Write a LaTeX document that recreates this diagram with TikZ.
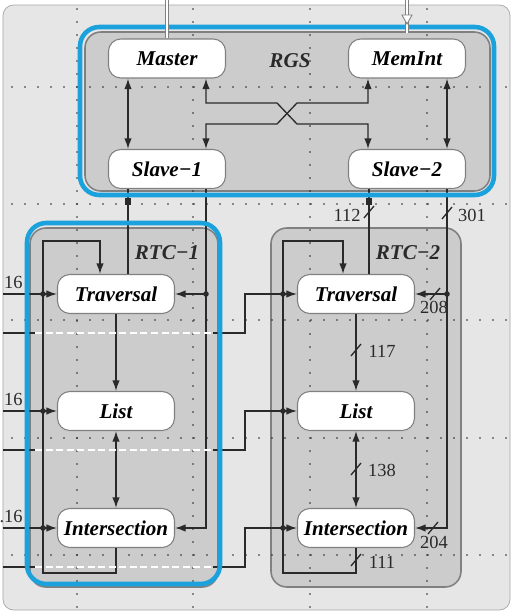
\documentclass[tikz,border=0pt]{standalone}
\usepackage{fontspec}
\setmainfont{Liberation Serif}
\usetikzlibrary{arrows.meta}
\usetikzlibrary{calc}

\definecolor{panel}{HTML}{E6E6E6}
\definecolor{boxfill}{HTML}{CCCCCC}
\definecolor{boxline}{HTML}{808080}
\definecolor{hilite}{HTML}{1BA1DC}
\definecolor{wire}{HTML}{2A2A2A}

\tikzset{
 unit/.style={draw=boxline, fill=white, line width=0.6pt, rounded corners=7pt,
  minimum width=2.34cm, minimum height=0.78cm, inner sep=0pt,
  font=\fontsize{12}{14}\selectfont\bfseries\itshape},
 grouplabel/.style={font=\fontsize{12}{14}\selectfont\bfseries\itshape, text=wire},
 wires/.style={draw=wire, line width=0.75pt},
 group/.style={draw=boxline, fill=boxfill, line width=0.9pt, rounded corners=9pt},
 ring/.style={draw=hilite, line width=2.6pt, rounded corners=11pt},
 buslabel/.style={font=\fontsize{10.5}{12}\selectfont, text=wire, inner sep=0pt},
 ghost/.style={draw=white, line width=1.3pt, dash pattern=on 4pt off 2pt},
 feed/.style={draw=boxline, double=white, double distance=1.4pt, line width=0.5pt},
}

\begin{document}
\begin{tikzpicture}[x=0.02cm, y=-0.02cm, >={Latex[length=6pt,width=4.2pt]}]
\useasboundingbox (0,0) rectangle (515,613);
\filldraw[fill=panel, draw=boxline!70, rounded corners=6pt] (3,5) rectangle (510,610);
% subsystem boxes
\path[group] (85,32) rectangle (490,191);
\path[group] (30,228) rectangle (218,587);
\path[group] (271,228) rectangle (461,587);
% dotted grid
\foreach \X in {77,193,310,427}
{\foreach \K in {0,...,46}
{\fill[black!85] (\X,9+13*\K) circle (0.9);}}
\foreach \Y in {87,204,320,438,555}
{\foreach \K in {0,...,38}
{\fill[black!85] (12+13*\K,\Y) circle (0.9);}}

\node[grouplabel] (rgs) at (290,61) {RGS};
\node[grouplabel] (rtc1) at (167,253) {RTC−1};
\node[grouplabel] (rtc2) at (408,253) {RTC−2};

\node[unit] (master) at (167,58.5) {Master};
\node[unit] (memint) at (407,58.5) {MemInt};
\node[unit] (slave1) at (167,169) {Slave−1};
\node[unit] (slave2) at (407,169) {Slave−2};
\node[unit] (trav1) at (116,294) {Traversal};
\node[unit] (list1) at (116,411) {List};
\node[unit] (inter1) at (116,528) {Intersection};
\node[unit] (trav2) at (356,294) {Traversal};
\node[unit] (list2) at (356,411) {List};
\node[unit] (inter2) at (356,528) {Intersection};

% RGS
\draw[wires,<->] (master.south -| 128,0) -- (slave1.north -| 128,0);
\draw[wires,<->] (memint.south -| 447,0) -- (slave2.north -| 447,0);
\draw[wires,<->] (master.south -| 206,0) -- (206,103) -- (277,103) -- (297,124)
 -- (368,124) -- (slave2.north -| 368,0);
\draw[wires,<->] (slave1.north -| 206,0) -- (206,124) -- (277,124) -- (297,103)
 -- (368,103) -- (memint.south -| 368,0);

% RTC-1
\draw[wires] (trav1.north -| 128,0) -- (slave1.south -| 128,0);
\fill[wire] (125,198) rectangle (131,205);
\draw[wires,->] (slave1.south -| 206,0) -- (inter1.east -| 206,0) -- (inter1.east);
\draw[wires,->] (trav1.east -| 206,0) -- (trav1.east);
\fill[wire] (trav1.east -| 206,0) circle (2.8);
\draw[wires,->] (inter1.south) -- (inter1.south |- 0,573) -- (43,573) -- (43,241)
 -- (100,241) -- (trav1.north -| 100,0);
\draw[wires,->] (trav1) -- (list1);
\draw[wires,<->] (list1) -- (inter1);
\foreach \N in {trav1,list1,inter1}
{\draw[wires,->] (\N.west -| 3,0) -- (\N.west);
\fill[wire] (\N.west -| 43,0) circle (2.8);}
\node[buslabel,anchor=base east] (in1) at (23,288) {16};
\node[buslabel,anchor=base east] (in2) at (23,405) {16};
\node[buslabel,anchor=base east] (in3) at (23,522) {.16};

% feeds into RTC-2 passing under RTC-1
\foreach \N/\Y in {trav2/333,list2/450,inter2/567}
{\draw[wires] (3,\Y) -- (35,\Y);
\draw[ghost] (35,\Y) -- (213,\Y);
\draw[wires,->] (213,\Y) -- (245,\Y) -- (\N.west -| 245,0) -- (\N.west);
\fill[wire] (\N.west -| 283,0) circle (2.8);}

% RTC-2
\draw[wires] (trav2.north -| 369,0) -- (slave2.south -| 369,0);
\fill[wire] (366,198) rectangle (372,205);
\draw[wires,->] (slave2.south -| 447,0) -- (inter2.east -| 447,0) -- (inter2.east);
\draw[wires,->] (trav2.east -| 447,0) -- (trav2.east);
\fill[wire] (trav2.east -| 447,0) circle (2.8);
\draw[wires,->] (inter2.south) -- (inter2.south |- 0,573) -- (283,573) -- (283,241)
 -- (343,241) -- (trav2.north -| 343,0);
\draw[wires,->] (trav2) -- (list2);
\draw[wires,<->] (list2) -- (inter2);
\foreach \X/\Y in {369/212,447/213,435/294,356/350,356/469,433/528,356/560}
{\draw[wires] (\X-5,\Y+6) -- (\X+5,\Y-6);}
\node[buslabel] (w112) at (347,215) {112};
\node[buslabel] (w301) at (472,215) {301};
\node[buslabel] (w208) at (434,307) {208};
\node[buslabel] (w117) at (382,351) {117};
\node[buslabel] (w138) at (382,470) {138};
\node[buslabel] (w204) at (434,542) {204};
\node[buslabel] (w111) at (382,562) {111};

% highlight rings
\path[ring] (80,27) rectangle (494,195);
\path[ring] (27,223) rectangle (220,584);

% external feeds
\draw[feed] (167,0) -- (master.north);
\draw[feed] (407,0) -- (407,33);
\filldraw[fill=white, draw=boxline, line width=0.5pt] (402,15) -- (412,15) -- (407,24) -- cycle;
\end{tikzpicture}
\end{document}
